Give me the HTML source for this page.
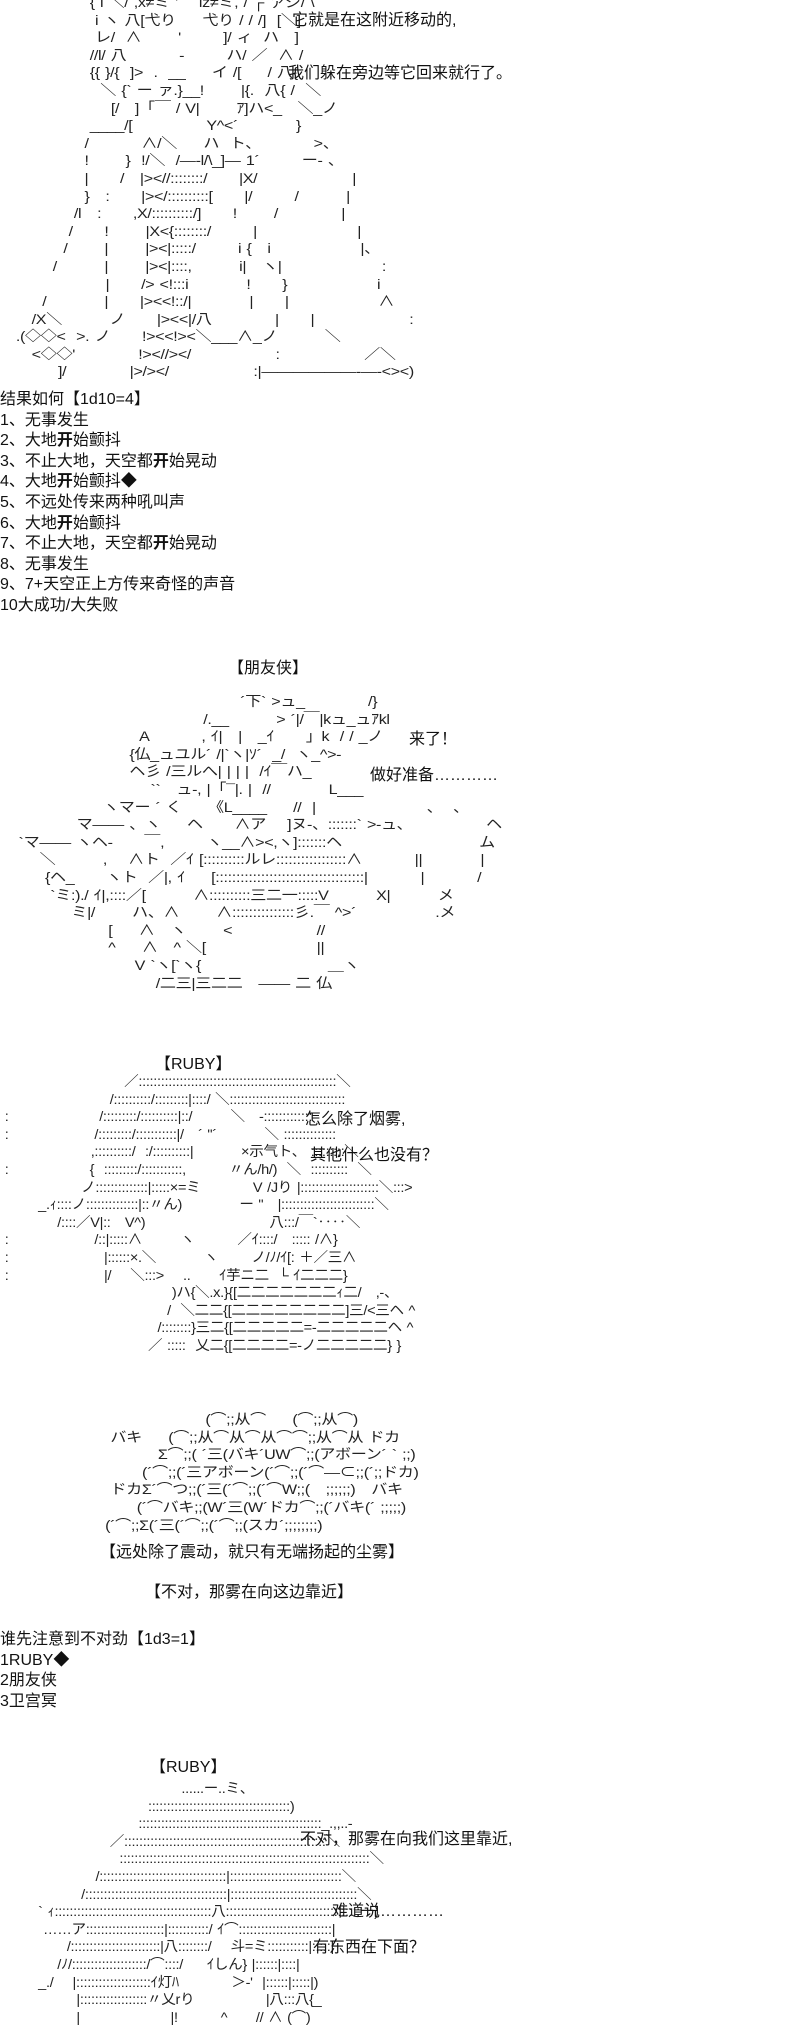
<!DOCTYPE html>
<html><head><meta charset="utf-8">
<style>
html,body{margin:0;padding:0;background:#fff;}
body{width:804px;height:2000px;position:relative;overflow:hidden;color:#111;
font-family:"Liberation Sans","Noto Sans CJK SC",sans-serif;}
.t{position:absolute;font-size:16px;line-height:20.6px;white-space:pre;}
.aa{position:absolute;font-size:14px;line-height:17.6px;white-space:pre;letter-spacing:-0.3px;word-spacing:1px;
font-family:"Liberation Sans","Noto Sans CJK JP",sans-serif;color:#222;transform:scaleX(1.15);transform-origin:0 0;}
.r{transform:scaleX(1.04);}
b{font-weight:bold}
</style></head><body>

<div class="aa" style="left:0;top:-6px">                 { l ＼/ ,x≠ミ '    iz≠ミ, / ┌ ァジ/ \
                  i ヽ 八[弋り     弋り / / /]  [＼]
                  レ/  ∧       '        ]/ ィ  ハ   ]
                 //l/ 八          -        ハ/ ／  ∧ /
                 {{ }/{  ]&gt;  .  __     イ /[     / 八{
                   ＼ {` ー ァ.}__!       |{.  八{ /  ＼
                     [/   ]「￣ / V|       ｱ]ハ&lt;_   ＼_ノ
                 ____/[              Y^&lt;´           }
                /          ∧/＼     ハ  ト、          &gt;、
                !       }  !/＼  /―-l/\_]― 1´        ー- 、
                |      /   |&gt;&lt;//::::::::/      |X/                  |
                }   :      |&gt;&lt;/::::::::::[      |/        /         |
              /l   :      ,X/::::::::::/]      !       /            |
             /      !       |X&lt;{::::::::/        |                   |
            /       |       |&gt;&lt;|:::::/        i {   i                 |、
          /         |       |&gt;&lt;|::::,         i|   ヽ|                   :
                    |      /&gt; &lt;!:::i           !      }                 i
        /           |      |&gt;&lt;&lt;!::/|           |      |                 ∧
      /X＼         ノ      |&gt;&lt;&lt;|/八            |      |                  :
   .(◇◇&lt;  &gt;. ノ      !&gt;&lt;&lt;!&gt;&lt;＼___∧_ノ         ＼
      &lt;◇◇'            !&gt;&lt;//&gt;&lt;/                :                ／＼
           ]/            |&gt;/&gt;&lt;/                :|――――――-―-&lt;&gt;&lt;)</div>

<div class="t" style="left:292px;top:11px">它就是在这附近移动的,</div>
<div class="t" style="left:288px;top:64px">我们躲在旁边等它回来就行了。</div>

<div class="t" style="left:0;top:390px">结果如何【1d10=4】
1、无事发生
2、大地<b>开</b>始颤抖
3、不止大地，天空都<b>开</b>始晃动
4、大地<b>开</b>始颤抖◆
5、不远处传来两种吼叫声
6、大地<b>开</b>始颤抖
7、不止大地，天空都<b>开</b>始晃动
8、无事发生
9、7+天空正上方传来奇怪的声音
10大成功/大失败</div>

<div class="t" style="left:228px;top:659px">【朋友侠】</div>
<div class="aa" style="left:8px;top:693px">                                            ´下` &gt;ュ_            /}
                                     /.__         &gt; ´|/￣|kュ_ュｱkl
                         A          , ｲ|   |   _ｲ      」k  / / _ノ
                       {仏_ュユル´ /|`ヽ|ｿ´  _/  ヽ_^&gt;-
                       ヘ彡 /三ルへ| | | |  /ｲ￣ハ_
                           ``   ュ-, |「¯|. |  //           L___
                  ヽマー ´ く     《L____     //  |                     、  、
             マ―― 、ヽ     ヘ      ∧ア    ]ヌ-、:::::::` &gt;-ュ、              ヘ
  `マ―― ヽヘ-      ￣,        ヽ__∧&gt;&lt;,ヽ]:::::::ヘ                          ム
      ＼         ,    ∧ト  ／ｲ [::::::::::ルレ:::::::::::::::::∧          ||           |
       {ヘ_      ヽト  ／|, ｲ     [::::::::::::::::::::::::::::::::::::|          |          /
        `ミ:)./ ｲ|,::::／[         ∧::::::::::三二一:::::V         X|         メ
            ミ|/       ハ、∧       ∧:::::::::::::::彡.￣ ^&gt;´               .メ
                   [     ∧   ヽ       &lt;                //
                   ^     ∧   ^ ＼[                     ||
                        V `ヽ[`ヽ{                        ＿ヽ
                            /二三|三二二   ―― 二 仏</div>
<div class="t" style="left:409px;top:730px">来了！</div>
<div class="t" style="left:370px;top:766px">做好准备…………</div>

<div class="t" style="left:155px;top:1055px">【RUBY】</div>
<div class="aa r" style="left:0;top:1073px">                          ／:::::::::::::::::::::::::::::::::::::::::::::::::::::＼
                       /::::::::::/:::::::::|::::/ ＼:::::::::::::::::::::::::::::::
 :                   /:::::::::/::::::::::|::/        ＼   -:::::::::::::
 :                  /:::::::::/:::::::::::|/   ´ "´          ＼ ::::::::::::::
                   ,::::::::::/  :/::::::::::|          ×示气ト、 :::::::::＼
 :                 {  :::::::::/:::::::::::,         〃ん/h/)  ＼  ::::::::::  ＼
                 ノ::::::::::::::|:::::×=ミ           V /Jり |:::::::::::::::::::::＼:::&gt;
        _.ｨ::::ノ::::::::::::::|::〃ん)            ー "   |:::::::::::::::::::::::::＼
            /::::／V|::   V^)                          八:::/￣`‥‥＼
 :                  /::|:::::∧        ヽ         ／ｲ::::/   ::::: /∧}
 :                    |::::::×.＼          ヽ       ノ/ﾉ/ｲ[: ＋／三∧
 :                    |/    ＼:::&gt;    ..      ｲ芋ニ二  └ ｲ二二二}
                                    )ハ{＼.x.}{[二二二二二二二ｨ二/   ,-、
                                   /  ＼二二{[二二二二二二二二]三/&lt;三ヘ ^
                                 /::::::::}三二{[二二二二二=-二二二二二ヘ ^
                               ／ :::::  乂二{[二二二二=-ノ二二二二二} }</div>
<div class="t" style="left:305px;top:1110px">怎么除了烟雾,</div>
<div class="t" style="left:310px;top:1146px">其他什么也没有？</div>

<div class="aa" style="left:84px;top:1411px">                       (⌒;;从⌒     (⌒;;从⌒)
     バキ     (⌒;;从⌒从⌒从⌒⌒;;从⌒从 ドカ
              Σ⌒;;( ´三(バキ´UW⌒;;(アボーン´ ` ;;)
           (´⌒;;(´三アボーン(´⌒;;(´⌒―⊂;;(´;;ドカ)
     ドカΣ´⌒つ;;(´三(´⌒;;(´⌒W;;(   ;;;;;;)   バキ
          (´⌒バキ;;(W´三(W´ドカ⌒;;(´バキ(´ ;;;;;)
    (´⌒;;Σ(´三(´⌒;;(´⌒;;(スカ´;;;;;;;;)</div>
<div class="t" style="left:100px;top:1543px">【远处除了震动，就只有无端扬起的尘雾】</div>
<div class="t" style="left:145px;top:1583px">【不对，那雾在向这边靠近】</div>

<div class="t" style="left:0;top:1630px">谁先注意到不对劲【1d3=1】
1RUBY◆
2朋友侠
3卫宫冥</div>

<div class="t" style="left:150px;top:1758px">【RUBY】</div>
<div class="aa r" style="left:0;top:1780px">                                      ......ー..ミ、
                               ::::::::::::::::::::::::::::::::::::::)
                             :::::::::::::::::::::::::::::::::::::::::::::::::_.,,..-
                       ／::::::::::::::::::::::::::::::::::::::::::::::::::::::＼
                         :::::::::::::::::::::::::::::::::::::::::::::::::::::::::::::::::::＼
                    /::::::::::::::::::::::::::::::::::|::::::::::::::::::::::::::::::＼
                 /::::::::::::::::::::::::::::::::::::::|::::::::::::::::::::::::::::::::::＼
        ` ｨ::::::::::::::::::::::::::::::::::::::::::八::::::::::::::::::::::::::::::::::::ー)
         ……ア:::::::::::::::::::::|:::::::::::/ ｲ⌒:::::::::::::::::::::::::|
              /::::::::::::::::::::::::|八::::::::/    斗=ミ:::::::::::|:::::|
            /ﾉ/::::::::::::::::::::/⌒::::/     ｲしん} |::::::|::::|
        _./    |::::::::::::::::::::ｲ灯ﾊ           ＞-'  |::::::|:::::|)
                |::::::::::::::::::〃乂rり               |八:::八{_
                |                   |!         ^      // ∧ (⌒)</div>
<div class="t" style="left:300px;top:1830px">不对，那雾在向我们这里靠近,</div>
<div class="t" style="left:332px;top:1902px">难道说…………</div>
<div class="t" style="left:313px;top:1938px">有东西在下面？</div>

</body></html>
